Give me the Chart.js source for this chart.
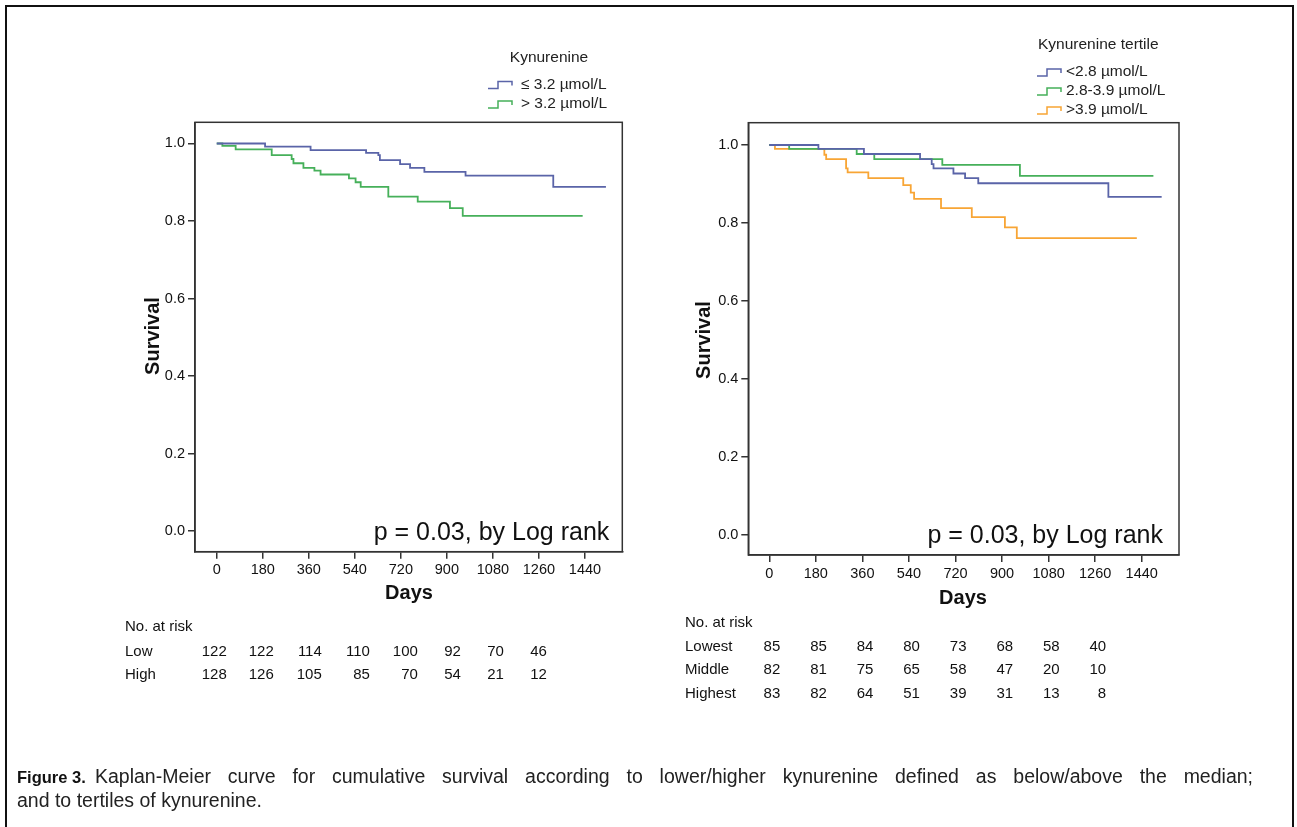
<!DOCTYPE html>
<html>
<head>
<meta charset="utf-8">
<script src="https://cdn.jsdelivr.net/npm/chart.js@4.4.1/dist/chart.umd.min.js"></script>
<style>
  html, body { margin:0; padding:0; background:#fff; }
  body { width:1297px; height:827px; position:relative; overflow:hidden; font-family:'Liberation Sans', Arial, sans-serif; }
  #frame { position:absolute; left:5px; top:5px; width:1285px; height:830px; border:2px solid #111; }
  canvas { position:absolute; top:0; }
  #c1 { left:0; }
  #c2 { left:650px; }
  .cap { position:absolute; font-size:19.5px; color:#222; white-space:nowrap; line-height:24px; }
  .fig { font-weight:bold; font-size:16.5px; color:#111; }
</style>
</head>
<body>
<div id="frame"></div>
<canvas id="c1" width="660" height="827"></canvas>
<canvas id="c2" width="647" height="827"></canvas>
<div class="cap" style="left:17px; top:764px;"><span class="fig">Figure 3.</span></div>
<div class="cap" id="cap1" style="left:95px; top:764px;">Kaplan-Meier curve for cumulative survival according to lower/higher kynurenine defined as below/above the median;</div>
<div class="cap" style="left:17px; top:788px;">and to tertiles of kynurenine.</div>
<script>
// ---------- DATA ----------
const dayTicks = [0, 180, 360, 540, 720, 900, 1080, 1260, 1440];
const survTicks = [0.0, 0.2, 0.4, 0.6, 0.8, 1.0];
const riskDays = [0, 180, 360, 540, 720, 900, 1080, 1260];

// Left panel: median split
const lowKynDays  = [0, 189, 367, 584, 632, 638, 717, 756, 812, 973, 1316, 1522];
const lowKynSurv  = [1.0, 0.992, 0.983, 0.976, 0.970, 0.957, 0.947, 0.937, 0.927, 0.917, 0.888, 0.888];
const highKynDays = [0, 22, 74, 215, 293, 300, 339, 382, 406, 517, 543, 563, 671, 786, 912, 962, 1431];
const highKynSurv = [1.0, 0.994, 0.985, 0.970, 0.960, 0.949, 0.937, 0.930, 0.920, 0.910, 0.900, 0.888, 0.863, 0.850, 0.833, 0.813, 0.813];

// Right panel: tertiles
const tert1Days = [0, 190, 366, 583, 628, 635, 712, 757, 808, 1311, 1517];
const tert1Surv = [1.0, 0.990, 0.977, 0.964, 0.951, 0.940, 0.927, 0.915, 0.902, 0.867, 0.867];
const tert2Days = [0, 77, 338, 406, 669, 969, 1485];
const tert2Surv = [1.0, 0.990, 0.977, 0.964, 0.949, 0.921, 0.921];
const tert3Days = [0, 22, 213, 220, 297, 303, 383, 518, 547, 560, 664, 783, 911, 957, 1421];
const tert3Surv = [1.0, 0.990, 0.975, 0.964, 0.940, 0.930, 0.915, 0.897, 0.878, 0.862, 0.838, 0.815, 0.789, 0.761, 0.761];

// Numbers at risk
const riskLow     = [122, 122, 114, 110, 100, 92, 70, 46];
const riskHigh    = [128, 126, 105, 85, 70, 54, 21, 12];
const riskLowest  = [85, 85, 84, 80, 73, 68, 58, 40];
const riskMiddle  = [82, 81, 75, 65, 58, 47, 20, 10];
const riskHighest = [83, 82, 64, 51, 39, 31, 13, 8];

const leftLegendTitle = 'Kynurenine';
const leftLegendLabels = ['\u2264 3.2 \u00b5mol/L', '> 3.2 \u00b5mol/L'];
const rightLegendTitle = 'Kynurenine tertile';
const rightLegendLabels = ['<2.8 \u00b5mol/L', '2.8-3.9 \u00b5mol/L', '>3.9 \u00b5mol/L'];
const pText = 'p = 0.03, by Log rank';

// ---------- STYLE ----------
const FONT = "'Liberation Sans', Arial, sans-serif";
const BLUE = '#5a64a8', GREEN = '#46b05a', ORANGE = '#f8a535';
const AXIS = '#333';

// justify first caption line to the right margin
(function () {
  const el = document.getElementById('cap1');
  const target = 1253 - 95;
  const w = el.getBoundingClientRect().width;
  const spaces = (el.textContent.match(/ /g) || []).length;
  if (spaces > 0 && w < target) el.style.wordSpacing = ((target - w) / spaces) + 'px';
})();

function pts(xs, ys) { return xs.map((x, i) => ({ x: x, y: ys[i] })); }

function ds(label, xs, ys, color) {
  return { label, data: pts(xs, ys), borderColor: color, backgroundColor: color,
           borderWidth: 1.8, pointRadius: 0, stepped: 'before', fill: false, tension: 0 };
}

function glyph(ctx, x0, yc, color) {
  ctx.save();
  ctx.strokeStyle = color; ctx.lineWidth = 1.5;
  ctx.beginPath();
  ctx.moveTo(x0, yc + 4); ctx.lineTo(x0 + 10, yc + 4); ctx.lineTo(x0 + 10, yc - 3);
  ctx.lineTo(x0 + 24, yc - 3); ctx.lineTo(x0 + 24, yc + 1);
  ctx.stroke();
  ctx.restore();
}

function makeChart(id, cfg) {
  const extra = {
    id: 'extra' + id,
    afterDraw(chart) {
      const ctx = chart.ctx, a = chart.chartArea;
      const xs = chart.scales.x;
      ctx.save();
      ctx.strokeStyle = AXIS; ctx.lineWidth = 1.5;
      ctx.strokeRect(a.left, a.top, a.right - a.left, a.bottom - a.top);
      ctx.fillStyle = '#111';
      ctx.font = 'bold 20px ' + FONT;
      ctx.textAlign = 'center'; ctx.textBaseline = 'middle';
      ctx.fillText('Days', cfg.daysPos[0], cfg.daysPos[1]);
      ctx.save();
      ctx.translate(cfg.survPos[0], cfg.survPos[1]);
      ctx.rotate(-Math.PI / 2);
      ctx.fillText('Survival', 0, 0);
      ctx.restore();
      ctx.font = '25px ' + FONT;
      ctx.textAlign = 'right';
      ctx.fillText(pText, a.right - cfg.pInset, cfg.pY);
      ctx.font = '15.5px ' + FONT;
      ctx.fillStyle = '#222';
      ctx.textAlign = cfg.legend.titleAlign;
      ctx.fillText(cfg.legend.title, cfg.legend.titleX, cfg.legend.titleY);
      ctx.textAlign = 'left';
      cfg.legend.labels.forEach((t, i) => {
        const y = cfg.legend.itemY[i];
        glyph(ctx, cfg.legend.glyphX, y, cfg.legend.colors[i]);
        ctx.fillStyle = '#222';
        ctx.fillText(t, cfg.legend.textX, y);
      });
      ctx.font = '15px ' + FONT;
      ctx.fillStyle = '#111';
      ctx.textAlign = 'left';
      ctx.fillText('No. at risk', cfg.table.labelX, cfg.table.headY);
      cfg.table.rows.forEach((r, i) => {
        const y = cfg.table.rowY[i];
        ctx.textAlign = 'left';
        ctx.fillText(r.name, cfg.table.labelX, y);
        ctx.textAlign = 'right';
        r.values.forEach((v, j) => {
          ctx.fillText(String(v), xs.getPixelForValue(riskDays[j]) + cfg.table.offsets[j], y);
        });
      });
      ctx.restore();
    }
  };
  const tickFont = { family: FONT, size: 14.5 };
  return new Chart(document.getElementById(id), {
    type: 'line',
    data: { datasets: cfg.datasets },
    options: {
      responsive: false, animation: false, devicePixelRatio: 1,
      layout: { padding: cfg.padding },
      plugins: { legend: { display: false }, tooltip: { enabled: false }, title: { display: false } },
      scales: {
        x: {
          type: 'linear', min: cfg.xMin, max: cfg.xMax,
          afterBuildTicks: s => { s.ticks = dayTicks.map(v => ({ value: v })); },
          afterFit: s => { s.height = 40; },
          grid: { drawOnChartArea: false, drawTicks: true, tickLength: 7, color: AXIS, lineWidth: 1.5 },
          border: { display: true, color: AXIS, width: 1.5 },
          ticks: { autoSkip: false, maxRotation: 0, minRotation: 0, padding: 3, color: '#111', font: tickFont,
                   callback: v => String(v) }
        },
        y: {
          type: 'linear', min: cfg.yMin, max: cfg.yMax,
          afterBuildTicks: s => { s.ticks = survTicks.map(v => ({ value: v })); },
          afterFit: s => { s.width = 60; },
          grid: { drawOnChartArea: false, drawTicks: true, tickLength: 7, color: AXIS, lineWidth: 1.5 },
          border: { display: true, color: AXIS, width: 1.5 },
          ticks: { autoSkip: false, padding: 3, color: '#111', font: tickFont,
                   callback: v => Number(v).toFixed(1) }
        }
      }
    },
    plugins: [extra]
  });
}

makeChart('c1', {
  datasets: [ds(leftLegendLabels[0], lowKynDays, lowKynSurv, BLUE),
             ds(leftLegendLabels[1], highKynDays, highKynSurv, GREEN)],
  xMin: -85, xMax: 1586, yMin: -0.0534, yMax: 1.0547,
  padding: { left: 195 - 60, top: 122.3, right: 660 - 622.3, bottom: 827 - 551.7 - 40 },
  daysPos: [409, 593], survPos: [153, 336], pInset: 13, pY: 533,
  legend: { title: leftLegendTitle, titleAlign: 'center', titleX: 549, titleY: 58,
            labels: leftLegendLabels, colors: [BLUE, GREEN], itemY: [84.5, 104], glyphX: 488, textX: 521 },
  table: { labelX: 125, headY: 627, rowY: [651.5, 675], offsets: [10, 11, 13, 15, 17, 14, 11, 8],
           rows: [{ name: 'Low', values: riskLow }, { name: 'High', values: riskHigh }] }
});

makeChart('c2', {
  datasets: [ds(rightLegendLabels[0], tert1Days, tert1Surv, BLUE),
             ds(rightLegendLabels[1], tert2Days, tert2Surv, GREEN),
             ds(rightLegendLabels[2], tert3Days, tert3Surv, ORANGE)],
  xMin: -81, xMax: 1584, yMin: -0.0513, yMax: 1.0572,
  padding: { left: 748.3 - 650 - 60, top: 122.7, right: 647 - (1179 - 650), bottom: 827 - 555 - 40 },
  daysPos: [963 - 650, 598], survPos: [704 - 650, 340], pInset: 16, pY: 536,
  legend: { title: rightLegendTitle, titleAlign: 'left', titleX: 1038 - 650, titleY: 45,
            labels: rightLegendLabels, colors: [BLUE, GREEN, ORANGE], itemY: [72, 91, 110], glyphX: 1037 - 650, textX: 1066 - 650 },
  table: { labelX: 685 - 650, headY: 623, rowY: [647, 670, 693.5], offsets: [11, 11, 11, 11, 11, 11, 11, 11],
           rows: [{ name: 'Lowest', values: riskLowest }, { name: 'Middle', values: riskMiddle }, { name: 'Highest', values: riskHighest }] }
});
</script>
</body>
</html>
